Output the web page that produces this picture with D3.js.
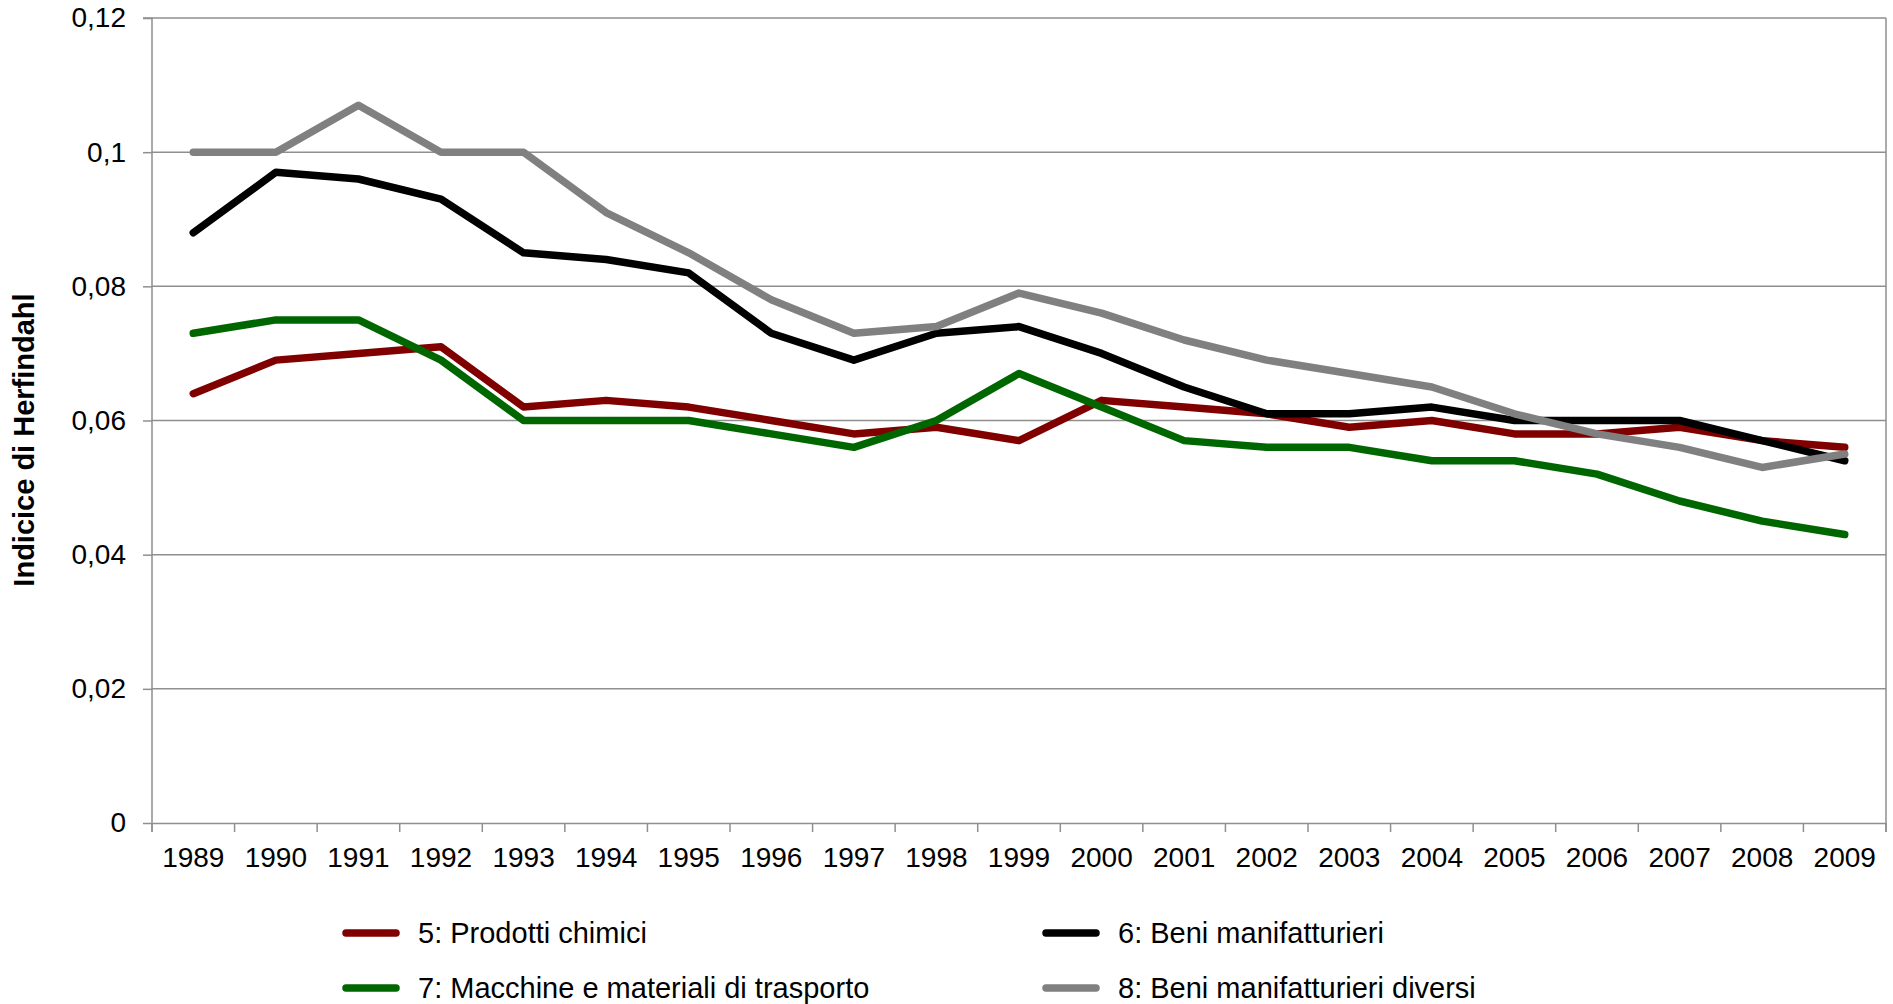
<!DOCTYPE html>
<html>
<head>
<meta charset="utf-8">
<script src="https://cdn.jsdelivr.net/npm/d3@7"></script>
<style>
  html, body { margin: 0; padding: 0; background: #fff; }
  svg { display: block; font-family: "Liberation Sans", Arial, sans-serif; }
</style>
</head>
<body>
<svg id="chart" width="1893" height="1004"></svg>
<script>
const years = ["1989","1990","1991","1992","1993","1994","1995","1996","1997","1998","1999","2000","2001","2002","2003","2004","2005","2006","2007","2008","2009"];
const yTicks = [0, 0.02, 0.04, 0.06, 0.08, 0.1, 0.12];
const yTickLabels = ["0", "0,02", "0,04", "0,06", "0,08", "0,1", "0,12"];
const seriesNames = ["5: Prodotti chimici", "6: Beni manifatturieri", "7: Macchine e materiali di trasporto", "8: Beni manifatturieri diversi"];
const seriesColors = ["#800000", "#000000", "#006600", "#808080"];
const prodottiChimici = [0.064,0.069,0.070,0.071,0.062,0.063,0.062,0.060,0.058,0.059,0.057,0.063,0.062,0.061,0.059,0.060,0.058,0.058,0.059,0.057,0.056];
const beniManifatturieri = [0.088,0.097,0.096,0.093,0.085,0.084,0.082,0.073,0.069,0.073,0.074,0.070,0.065,0.061,0.061,0.062,0.060,0.060,0.060,0.057,0.054];
const macchineTrasporto = [0.073,0.075,0.075,0.069,0.060,0.060,0.060,0.058,0.056,0.060,0.067,0.062,0.057,0.056,0.056,0.054,0.054,0.052,0.048,0.045,0.043];
const beniDiversi = [0.100,0.100,0.107,0.100,0.100,0.091,0.085,0.078,0.073,0.074,0.079,0.076,0.072,0.069,0.067,0.065,0.061,0.058,0.056,0.053,0.055];
const yTitle = "Indicice di Herfindahl";

const seriesValues = [prodottiChimici, beniManifatturieri, macchineTrasporto, beniDiversi];

const svg = d3.select("#chart");
const L = 152, R = 1886, T = 18, B = 823;
const axisColor = "#8f8f8f";

const x = d3.scaleBand().domain(years).range([L, R]).paddingInner(0).paddingOuter(0);
const y = d3.scaleLinear().domain([0, 0.12]).range([B, T]);

// gridlines
svg.append("g").selectAll("line").data(yTicks.filter(d => d > 0)).join("line")
  .attr("x1", L).attr("x2", R)
  .attr("y1", d => y(d)).attr("y2", d => y(d))
  .attr("stroke", axisColor).attr("stroke-width", 1.5);

// right border
svg.append("line").attr("x1", R).attr("x2", R).attr("y1", T).attr("y2", B + 9)
  .attr("stroke", axisColor).attr("stroke-width", 1.5);

// y axis
const yAxis = d3.axisLeft(y).tickValues(yTicks).tickSize(9).tickPadding(17)
  .tickFormat((d, i) => yTickLabels[i]);
const gy = svg.append("g").attr("transform", `translate(${L},0)`).call(yAxis);
gy.select(".domain").attr("stroke", axisColor).attr("stroke-width", 1.5).attr("d", `M-9,${T}H0V${B + 9}`);
gy.selectAll(".tick line").attr("stroke", axisColor).attr("stroke-width", 1.5);
gy.selectAll(".tick text").attr("font-size", 28).attr("fill", "#000")
  .attr("font-family", "'Liberation Sans', Arial, sans-serif");

// x axis (labels at band centres, ticks at band boundaries)
const xAxis = d3.axisBottom(x).tickSize(0).tickPadding(24);
const gx = svg.append("g").attr("transform", `translate(0,${B})`).call(xAxis);
gx.select(".domain").attr("stroke", axisColor).attr("stroke-width", 1.5);
gx.selectAll(".tick text").attr("font-size", 28).attr("fill", "#000")
  .attr("font-family", "'Liberation Sans', Arial, sans-serif");
const bounds = years.map(d => x(d)).concat([x(years[years.length - 1]) + x.bandwidth()]);
svg.append("g").selectAll("line").data(bounds).join("line")
  .attr("x1", d => d).attr("x2", d => d).attr("y1", B).attr("y2", B + 9)
  .attr("stroke", axisColor).attr("stroke-width", 1.5);

// lines
const line = d3.line()
  .x((d, i) => x(years[i]) + x.bandwidth() / 2)
  .y(d => y(d))
  .curve(d3.curveLinear);
svg.append("g").selectAll("path").data(seriesValues).join("path")
  .attr("d", d => line(d))
  .attr("fill", "none")
  .attr("stroke", (d, i) => seriesColors[i])
  .attr("stroke-width", 7.5)
  .attr("stroke-linecap", "round")
  .attr("stroke-linejoin", "round");

// y title
svg.append("text")
  .attr("transform", "translate(34,440) rotate(-90)")
  .attr("text-anchor", "middle")
  .attr("font-size", 29).attr("font-weight", "bold").attr("fill", "#000")
  .text(yTitle);

// legend
const legendPos = [[346, 933], [1046, 933], [346, 988], [1046, 988]];
const lg = svg.append("g").selectAll("g").data(seriesNames).join("g")
  .attr("transform", (d, i) => `translate(${legendPos[i][0]},${legendPos[i][1]})`);
lg.append("line").attr("x1", 0).attr("x2", 50).attr("y1", 0).attr("y2", 0)
  .attr("stroke", (d, i) => seriesColors[i]).attr("stroke-width", 7.5).attr("stroke-linecap", "round");
lg.append("text").attr("x", 72).attr("y", 0).attr("dy", "0.35em")
  .attr("font-size", 29).attr("fill", "#000").text(d => d);
</script>
</body>
</html>
